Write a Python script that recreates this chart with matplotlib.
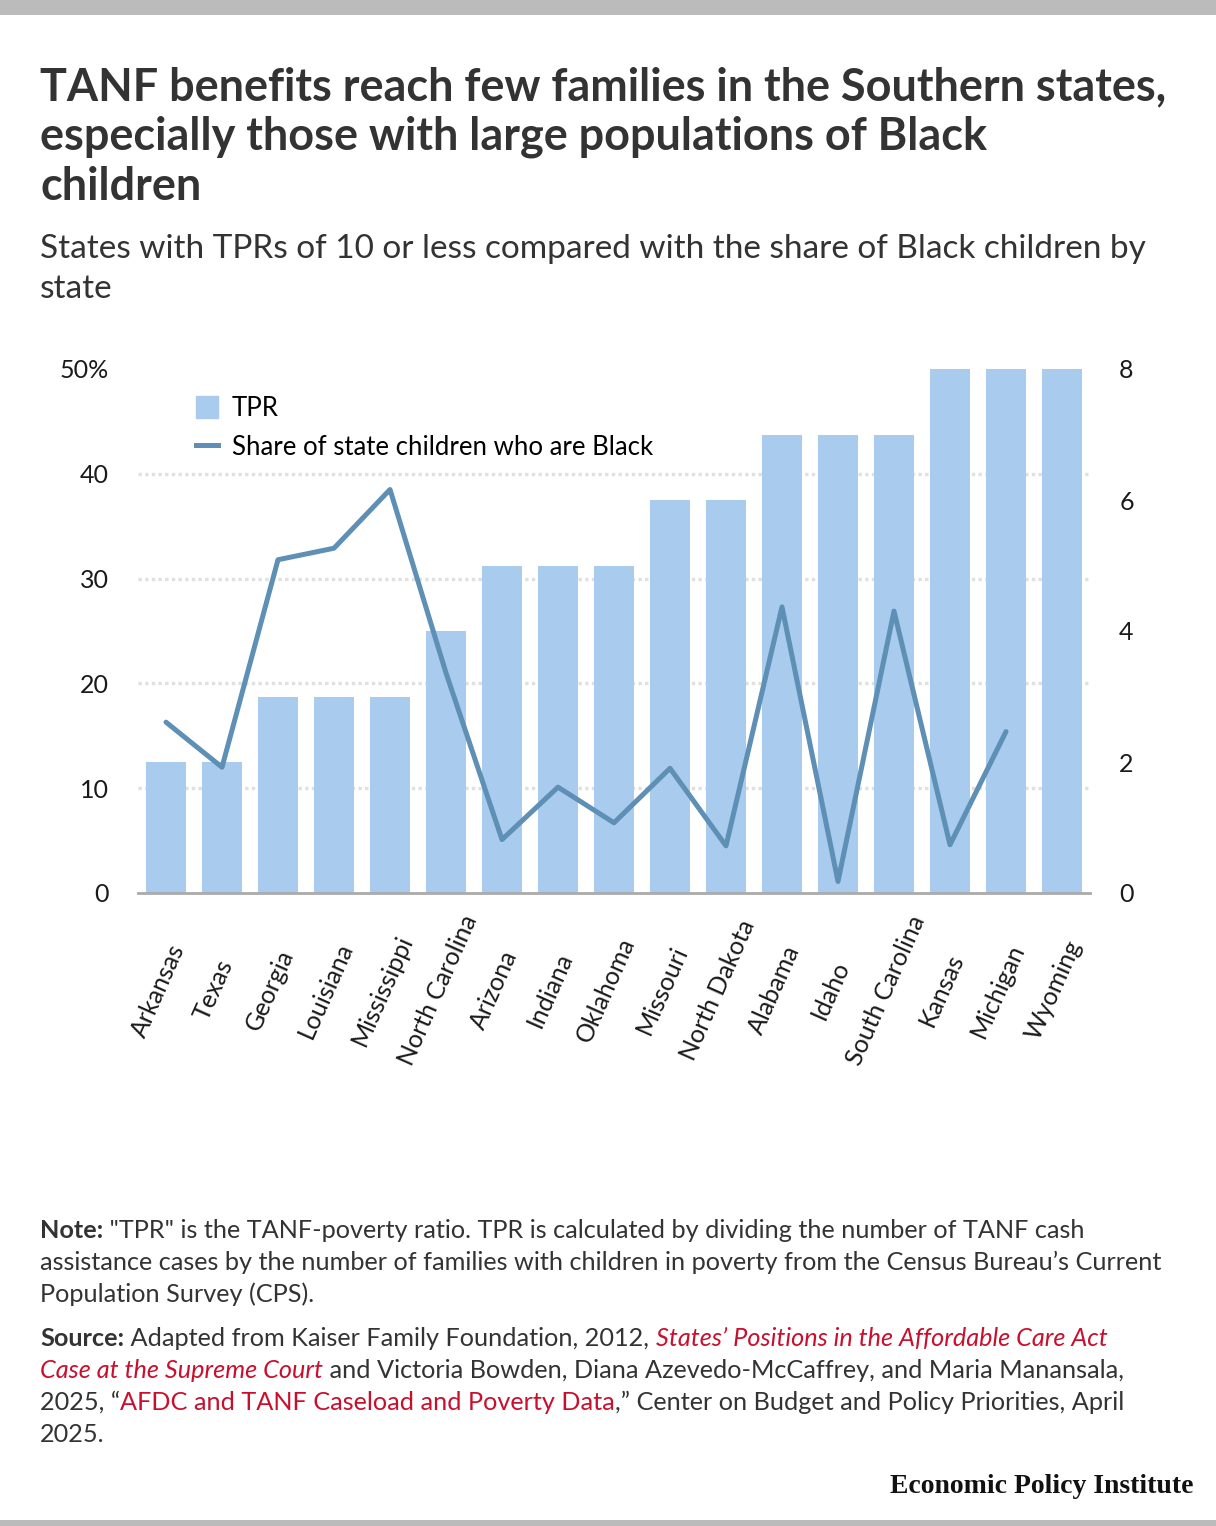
import matplotlib
matplotlib.use("Agg")
import matplotlib.pyplot as plt
import matplotlib.transforms as mtransforms
import numpy as np
from matplotlib.patches import Patch, Rectangle
from matplotlib.lines import Line2D
from matplotlib.ticker import FixedLocator

plt.rcParams.update({
    "font.family": ["Lato", "DejaVu Sans"],
    "font.size": 14,
})

W, H = 1216, 1526

states = ["Arkansas", "Texas", "Georgia", "Louisiana", "Mississippi",
          "North Carolina", "Arizona", "Indiana", "Oklahoma", "Missouri",
          "North Dakota", "Alabama", "Idaho", "South Carolina", "Kansas",
          "Michigan", "Wyoming"]
tpr = [2, 2, 3, 3, 3, 4, 5, 5, 5, 6, 6, 7, 7, 7, 8, 8, 8]
black_share = [16.3, 12.0, 31.8, 32.9, 38.5, 21.0, 5.1, 10.1, 6.7, 11.9,
               4.5, 27.3, 1.1, 26.9, 4.6, 15.4, np.nan]
pct_ticks = [0, 10, 20, 30, 40, 50]
pct_labels = ["0", "10", "20", "30", "40", "50%"]
tpr_ticks = [0, 2, 4, 6, 8]

C = {
    "bar": "#a9cbee",
    "line": "#5e8fb5",
    "grid": "#e0e0e0",
    "base": "#aaaaaa",
    "text": "#333333",
    "tick": "#1a1a1a",
    "red": "#c8102e",
    "frame": "#bbbbbb",
}


def fx(px):
    return px / W


def fy(py):
    return 1 - py / H


fig = plt.figure(figsize=(W / 100, H / 100), dpi=100)

# top / bottom gray strips
fig.add_artist(Rectangle((0, fy(15)), 1, 15 / H, transform=fig.transFigure,
                         color=C["frame"], lw=0))
fig.add_artist(Rectangle((0, 0), 1, 6 / H, transform=fig.transFigure,
                         color=C["frame"], lw=0))

# title + subtitle
title = ["TANF benefits reach few families in the Southern states,",
         "especially those with large populations of Black",
         "children"]
for i, t in enumerate(title):
    fig.text(fx(40), fy(100 + 50 * i), t, fontsize=32.4, fontweight="bold",
             color=C["text"], va="baseline")
sub = ["States with TPRs of 10 or less compared with the share of Black children by",
       "state"]
for i, t in enumerate(sub):
    fig.text(fx(40), fy(258 + 40 * i), t, fontsize=24, color=C["text"],
             va="baseline")

# ── chart ──
ax = fig.add_axes([fx(138), fy(893), fx(1090) - fx(138), (893 - 369) / H])
x = np.arange(len(states))
ax.bar(x, tpr, width=0.72, color=C["bar"], zorder=2)
ax.set_xlim(-0.5, len(states) - 0.5)
ax.set_ylim(0, 8)

ax2 = ax.twinx()
ax2.plot(x, black_share, color=C["line"], lw=3.6, solid_joinstyle="round",
         solid_capstyle="round")
ax2.set_ylim(0, 50)
ax2.yaxis.tick_left()
ax2.set_yticks(pct_ticks)
ax2.set_yticklabels(pct_labels)
ax2.tick_params(axis="y", length=0, pad=21, labelsize=18, labelcolor=C["tick"])
for s in ax2.spines.values():
    s.set_visible(False)

# bar axis: ticks on right, dotted grid at the percent ticks (below bars)
ax.yaxis.tick_right()
ax.set_yticks(tpr_ticks)
ax.yaxis.set_minor_locator(FixedLocator(np.array(pct_ticks) * 8 / 50))
ax.grid(axis="y", which="minor", color=C["grid"], lw=2.4,
        linestyle=(0, (1, 1)))
ax.grid(axis="y", which="major", visible=False)
ax.set_axisbelow(True)
ax.tick_params(axis="y", which="both", length=0, pad=21, labelsize=18,
               labelcolor=C["tick"])
ax.set_xticks(x)
ax.set_xticklabels(states, rotation=66, ha="center", va="center",
                   rotation_mode="anchor")
ax.tick_params(axis="x", length=0, pad=70, labelsize=18, labelcolor=C["tick"])
shift = mtransforms.ScaledTranslation(-8 / 100, 0, fig.dpi_scale_trans)
for lbl in ax.get_xticklabels():
    lbl.set_transform(lbl.get_transform() + shift)
for s in ["top", "left", "right"]:
    ax.spines[s].set_visible(False)
ax.spines["bottom"].set_color(C["base"])
ax.spines["bottom"].set_linewidth(2)
ax.spines["bottom"].set_zorder(3)

handles = [Patch(color=C["bar"], label="TPR"),
           Line2D([], [], color=C["line"], lw=3.6,
                  label="Share of state children who are Black")]
ax2.legend(handles=handles, loc="upper left", bbox_to_anchor=(0.05, 0.968),
           frameon=False, fontsize=18.5, handlelength=0.85, handleheight=0.95,
           handletextpad=0.55, labelspacing=0.55, borderaxespad=0)

# ── notes with mixed styles ──
renderer = fig.canvas.get_renderer()


def runs(y, parts, fs=18.2):
    xpos = fx(40)
    for txt, style in parts:
        kw = dict(fontsize=fs, color=C["text"], va="baseline")
        if style == "b":
            kw["fontweight"] = "bold"
        elif style == "r":
            kw["color"] = C["red"]
        elif style == "ri":
            kw["color"] = C["red"]
            kw["style"] = "italic"
        t = fig.text(xpos, fy(y), txt, **kw)
        bb = t.get_window_extent(renderer)
        xpos += bb.width / W


runs(1238, [("Note:", "b"), (' "TPR" is the TANF-poverty ratio. TPR is calculated by dividing the number of TANF cash', "")])
runs(1270, [("assistance cases by the number of families with children in poverty from the Census Bureau\u2019s Current", "")])
runs(1302, [("Population Survey (CPS).", "")])
runs(1346, [("Source:", "b"), (" Adapted from Kaiser Family Foundation, 2012, ", ""),
            ("States\u2019 Positions in the Affordable Care Act", "ri")])
runs(1378, [("Case at the Supreme Court", "ri"),
            (" and Victoria Bowden, Diana Azevedo-McCaffrey, and Maria Manansala,", "")])
runs(1410, [("2025, \u201c", ""), ("AFDC and TANF Caseload and Poverty Data", "r"),
            (",\u201d Center on Budget and Policy Priorities, April", "")])
runs(1442, [("2025.", "")])

fig.text(fx(1193), fy(1493), "Economic Policy Institute", ha="right",
         va="baseline", fontsize=20, fontweight="bold",
         family=["Liberation Serif", "DejaVu Serif"], color="#111111")

fig.savefig("out.png", dpi=100)
